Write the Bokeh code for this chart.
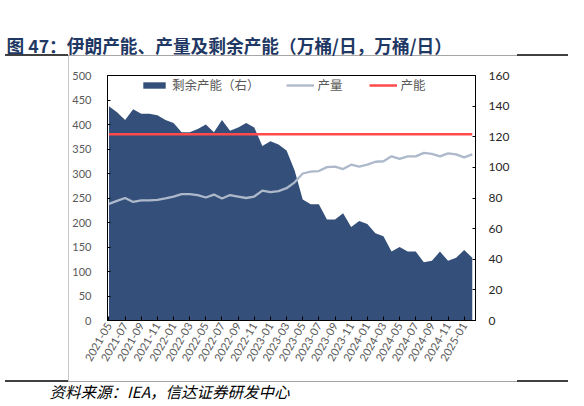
import math
from bokeh.plotting import figure
from bokeh.models import (Range1d, LinearAxis, FixedTicker, Title,
                          Legend, LegendItem, ColumnDataSource)
from bokeh.embed import file_html
from bokeh.resources import INLINE

# ---------------- data ----------------
tick_labels = ["2021-05", "2021-07", "2021-09", "2021-11", "2022-01", "2022-03",
               "2022-05", "2022-07", "2022-09", "2022-11", "2023-01", "2023-03",
               "2023-05", "2023-07", "2023-09", "2023-11", "2024-01", "2024-03",
               "2024-05", "2024-07", "2024-09", "2024-11", "2025-01"]
n_months = 46  # 2021-05 .. 2025-02, monthly
month_idx = list(range(n_months))

production = [238, 244, 250, 242, 245, 245, 246, 249, 253, 258, 258, 256, 251, 257,
              249, 256, 253, 250, 253, 265, 262, 264, 270, 282, 300, 304, 305, 313,
              314, 309, 318, 314, 318, 324, 325, 335, 330, 335, 335, 342, 340, 335,
              341, 339, 333, 339]
capacity = [380] * n_months
spare = [140, 136, 131, 138, 135, 135, 134, 131, 129, 123, 123, 125, 128, 123,
         131, 124, 126, 129, 126, 114, 117, 115, 111, 98, 79, 76, 76, 66, 66, 70,
         61, 65, 63, 57, 55, 45, 48, 45, 45, 38, 39, 45, 39, 41, 46, 41]

src = ColumnDataSource(dict(x=month_idx, prod=production, cap=capacity,
                            spare=spare, zero=[0] * n_months))

# ---------------- figure ----------------
W, H = 584, 406
p = figure(width=W, height=H, output_backend="svg", toolbar_location=None,
           x_range=Range1d(-0.18, 45.4), y_range=Range1d(0, 500),
           min_border_left=107, min_border_right=109, min_border_top=75,
           min_border_bottom=86)
p.extra_y_ranges = {"right": Range1d(0, 160)}
p.xgrid.visible = False
p.ygrid.visible = False
p.outline_line_color = "black"
p.outline_line_width = 1
p.background_fill_color = "white"
p.border_fill_alpha = 0

# page decoration lines (report table borders) drawn behind the transparent border
p.styles = {
    "background-color": "white",
    "background-image": ", ".join(["linear-gradient(#404040,#404040)"] * 4 +
                                  ["linear-gradient(#A6A6A6,#A6A6A6)"] * 2 +
                                  ["linear-gradient(#C8C8C8,#C8C8C8)"]),
    "background-position": "5px 54px, 517px 54px, 5px 380px, 517px 380px, "
                           "5px 55px, 5px 381px, 68px 55px",
    "background-size": "63px 2px, 51px 2px, 63px 2px, 51px 2px, "
                       "563px 1px, 563px 1px, 1px 326px",
    "background-repeat": "no-repeat",
}

area = p.varea(x="x", y1="zero", y2="spare", source=src, fill_color="#34507A",
               y_range_name="right")
prod_line = p.line("x", "prod", source=src, line_color="#ADB9CA", line_width=2.3)
cap_line = p.line("x", "cap", source=src, line_color="#FF4B4B", line_width=2.5)

FONT = "Lato"
LABEL_COLOR = "#595959"

# x axis
xa = p.xaxis[0]
xa.ticker = FixedTicker(ticks=list(range(0, 45, 2)))
xa.major_label_overrides = {i * 2: lab for i, lab in enumerate(tick_labels)}
xa.major_label_orientation = math.pi / 3
xa.major_tick_in = 4
xa.major_tick_out = 0
xa.minor_tick_line_color = None
xa.axis_line_color = "black"
xa.major_tick_line_color = "black"
xa.major_label_text_font = FONT
xa.major_label_text_font_size = "11px"
xa.major_label_text_color = LABEL_COLOR
xa.major_label_standoff = 3
# blank axis label used only as vertical spacing above the source line
xa.axis_label = " "
xa.axis_label_standoff = 0
xa.axis_label_text_font_size = "6px"

# left y axis
ya = p.yaxis[0]
ya.ticker = FixedTicker(ticks=list(range(0, 501, 50)))
ya.major_tick_in = 3
ya.major_tick_out = 0
ya.minor_tick_line_color = None
ya.axis_line_color = "black"
ya.major_tick_line_color = "black"
ya.major_label_text_font = FONT
ya.major_label_text_font_size = "11px"
ya.major_label_text_color = LABEL_COLOR
ya.major_label_standoff = 16

# right y axis
ra = LinearAxis(y_range_name="right", ticker=FixedTicker(ticks=list(range(0, 161, 20))))
ra.major_tick_in = 3
ra.major_tick_out = 0
ra.minor_tick_line_color = None
ra.axis_line_color = "black"
ra.major_tick_line_color = "black"
ra.major_label_text_font = FONT
ra.major_label_text_font_size = "12px"
ra.major_label_text_color = "#262626"
ra.major_label_standoff = 13
p.add_layout(ra, "right")

# legend
legend = Legend(items=[LegendItem(label="剩余产能（右）", renderers=[area]),
                       LegendItem(label="产量", renderers=[prod_line]),
                       LegendItem(label="产能", renderers=[cap_line])],
                orientation="horizontal", location=(33, 226),
                glyph_width=28, glyph_height=8, spacing=26, padding=0,
                label_standoff=4, border_line_color=None,
                background_fill_alpha=0,
                label_text_font="Noto Sans CJK SC", label_text_font_size="12.5px",
                label_text_color=LABEL_COLOR)
p.add_layout(legend, "center")

# title and source
p.title.text = "图 47：伊朗产能、产量及剩余产能（万桶/日，万桶/日）"
p.title.align = "left"
p.title.offset = -101
p.title.standoff = 35
p.title.text_font = "Noto Sans CJK SC"
p.title.text_font_style = "bold"
p.title.text_font_size = "17.7px"
p.title.text_color = "#1F3864"

p.add_layout(Title(text="资料来源：IEA，信达证券研发中心", align="left", offset=-58,
                   standoff=3, text_font="Noto Sans CJK SC",
                   text_font_style="italic", text_font_size="15.5px",
                   text_color="black"), "below")

open("out.html", "w").write(file_html(p, INLINE))
